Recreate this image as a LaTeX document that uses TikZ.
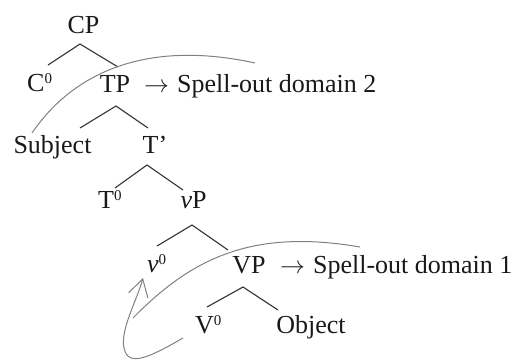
\documentclass[tikz,border=0pt]{standalone}
\usepackage{fontspec}
\setmainfont{Liberation Serif}
\usetikzlibrary{arrows.meta}
\newcommand{\zsup}{\raisebox{8pt}{\fontsize{15}{15}\selectfont 0}}
\begin{document}
\begin{tikzpicture}[x=1pt,y=-1pt,
  lbl/.style={inner sep=0pt,font=\fontsize{26}{30}\selectfont,text=black!90},
  branch/.style={draw=black!80,line width=1.1pt},
  curve/.style={draw=black!50,line width=1pt}]
\useasboundingbox (0,0) rectangle (514,360);
% labels
\node[lbl,anchor=base] (cp) at (83.5,33) {CP};
\node[lbl,anchor=base west] (c0) at (27,91) {C\zsup};
\node[lbl,anchor=base] (tp) at (115,92) {TP};
\node[lbl,anchor=base west] (sod2) at (144,92) {$\rightarrow$\hspace{8pt}Spell-out domain 2};
\node[lbl,anchor=base] (subj) at (52.5,153) {Subject};
\node[lbl,anchor=base] (tbar) at (155,153) {T’};
\node[lbl,anchor=base west] (t0) at (98,208) {T\zsup};
\node[lbl,anchor=base] (vp) at (193.5,208) {\textit{v}P};
\node[lbl,anchor=base west] (v0) at (147,272) {\textit{v}\zsup};
\node[lbl,anchor=base] (bigvp) at (249,273) {VP};
\node[lbl,anchor=base west] (sod1) at (280,273) {$\rightarrow$\hspace{8pt}Spell-out domain 1};
\node[lbl,anchor=base west] (bigv0) at (195,333) {V\zsup};
\node[lbl,anchor=base] (obj) at (311,333) {Object};
% branch points
\coordinate (cpA) at (80,44);   \coordinate (cpL) at (48,65);   \coordinate (cpR) at (118,67);
\coordinate (tpA) at (116,106); \coordinate (tpL) at (80,128);  \coordinate (tpR) at (148,128);
\coordinate (tbA) at (147,165); \coordinate (tbL) at (115,188); \coordinate (tbR) at (183,190);
\coordinate (vpA) at (192,225); \coordinate (vpL) at (157,246); \coordinate (vpR) at (228,250);
\coordinate (VPA) at (243,287); \coordinate (VPL) at (207,307); \coordinate (VPR) at (278,310);
\draw[branch] (cpL) -- (cpA) -- (cpR);
\draw[branch] (tpL) -- (tpA) -- (tpR);
\draw[branch] (tbL) -- (tbA) -- (tbR);
\draw[branch] (vpL) -- (vpA) -- (vpR);
\draw[branch] (VPL) -- (VPA) -- (VPR);
% spell-out domain curves
\draw[curve] (32,133) .. controls (75,70) and (150,40) .. (255,63);
\draw[curve] (360,247) .. controls (250,228) and (190,260) .. (133,318);
\draw[curve,-{Straight Barb[length=17pt,width=20pt]}] (183,338) .. controls (150,357) and (128,368) .. (124,348) .. controls (120,330) and (137,300) .. (143,278);
\end{tikzpicture}
\end{document}
